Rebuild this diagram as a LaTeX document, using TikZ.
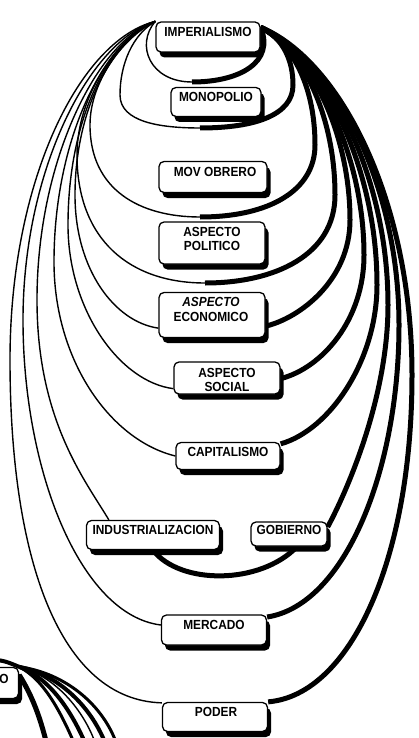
\documentclass[tikz,border=0pt]{standalone}
\usepackage{fontspec}
\setmainfont{Liberation Sans}
\newfontfamily\boxfont[FakeStretch=0.9]{Liberation Sans}
\usetikzlibrary{shadows,calc,backgrounds}
\begin{document}
\begin{tikzpicture}[x=1pt,y=-1pt,
  box/.style={draw=black, line width=1.3pt, rounded corners=5pt, fill=white,
    drop shadow={shadow xshift=3.5pt, shadow yshift=-5.5pt, fill=black, opacity=1},
    inner sep=0pt},
  lbl/.style={font=\boxfont\bfseries\fontsize{13.2}{14.5}\selectfont, align=center, inner sep=0pt},
  lthin/.style={line width=1.4pt},
  lthick/.style={line width=5pt},
  line cap=round, line join=round]
\useasboundingbox (0,0) rectangle (419,738);
\clip (0,0) rectangle (419,738);

% concept boxes
\node[box, minimum width=104pt, minimum height=30pt] (imp)     at (208,37)  {};
\node[box, minimum width=90pt,  minimum height=29pt] (mono)    at (216,102) {};
\node[box, minimum width=108pt, minimum height=31pt] (mov)     at (213,177) {};
\node[box, minimum width=106pt, minimum height=42pt] (pol)     at (212,243) {};
\node[box, minimum width=106pt, minimum height=45pt] (econ)    at (212,315) {};
\node[box, minimum width=106pt, minimum height=32pt] (social)  at (227,378) {};
\node[box, minimum width=104pt, minimum height=27pt] (capital) at (228,456) {};
\node[box, minimum width=133pt, minimum height=29pt] (indust)  at (153,535) {};
\node[box, minimum width=76pt,  minimum height=24pt] (gob)     at (289,534) {};
\node[box, minimum width=105pt, minimum height=30pt] (merc)    at (214,630) {};
\node[box, minimum width=105pt, minimum height=29pt] (poder)   at (215,717) {};
\node[box, minimum width=63pt,  minimum height=31pt] (pn)      at (-13,683) {};

% labels, set near the top of each box
\node[lbl] (imp-t)     at (208,32)  {IMPERIALISMO};
\node[lbl] (mono-t)    at (216,97)  {MONOPOLIO};
\node[lbl] (mov-t)     at (215,172) {MOV OBRERO};
\node[lbl] (pol-t)     at (212,239) {ASPECTO\\POLITICO};
\node[lbl] (econ-t)    at (211,309.5) {\itshape ASPECTO\\ECONOMICO};
\node[lbl] (social-t)  at (227,380) {ASPECTO\\SOCIAL};
\node[lbl] (capital-t) at (228,452) {CAPITALISMO};
\node[lbl] (indust-t)  at (153,530) {INDUSTRIALIZACION};
\node[lbl] (gob-t)     at (289,530) {GOBIERNO};
\node[lbl] (merc-t)    at (214,625) {MERCADO};
\node[lbl] (poder-t)   at (216,712) {PODER};
\node[lbl] (pn-t)      at (4,679)   {O};

% loop anchors
\coordinate (impL) at (imp.north west);
\coordinate (impR) at ([yshift=-6pt]imp.north east);
\coordinate (a0) at (192,82);
\coordinate (b0) at (200,128);
\coordinate (c0) at (200,217);
\coordinate (d0) at (205,283);
\coordinate (econL) at ([yshift=10pt]econ.south west);
\coordinate (econR) at ([yshift=12pt]econ.south east);
\coordinate (socL) at ([yshift=6pt]social.south west);
\coordinate (socR) at ([yshift=16pt]social.south east);
\coordinate (capL) at (capital.west);
\coordinate (capR) at ([yshift=-2pt]capital.north east);
\coordinate (indT) at ([xshift=23pt]indust.north west);
\coordinate (indB) at (indust.south);
\coordinate (gobB) at ([xshift=8pt]gob.south);
\coordinate (gobR) at ([yshift=7pt]gob.east);
\coordinate (mercL) at ([yshift=5pt]merc.west);
\coordinate (mercR) at ([yshift=13pt]merc.east);
\coordinate (podL) at ([yshift=-1pt]poder.north west);
\coordinate (podR) at (poder.north east);

\begin{scope}[on background layer]
% innermost loop under IMPERIALISMO
\draw[lthin]  (impL) .. controls (135,45) and (150,82) .. (a0);
\draw[lthick] (a0) .. controls (240,82) and (275,62) .. (impR);
% MONOPOLIO
\draw[lthin]  (impL) .. controls (132,35) and (120,65) .. (120,95)
              .. controls (120,122) and (160,128) .. (b0);
\draw[lthick] (b0) .. controls (255,128) and (293,115) .. (293,85)
              .. controls (293,60) and (283,38) .. (impR);
% MOV OBRERO
\draw[lthin]  (impL) .. controls (125,36) and (90,80) .. (90,125)
              .. controls (90,190) and (140,217) .. (c0);
\draw[lthick] (c0) .. controls (270,217) and (315,190) .. (315,145)
              .. controls (315,90) and (295,45) .. (impR);
% ASPECTO POLITICO
\draw[lthin]  (impL) .. controls (118,38) and (77,95) .. (77,155)
              .. controls (77,240) and (130,283) .. (d0);
\draw[lthick] (d0) .. controls (275,283) and (335,255) .. (335,195)
              .. controls (335,120) and (305,50) .. (impR);
% ASPECTO ECONOMICO
\draw[lthin]  (impL) .. controls (112,40) and (75,110) .. (75,195)
              .. controls (75,270) and (115,322) .. (econL);
\draw[lthick] (econR) .. controls (300,318) and (350,280) .. (350,220)
              .. controls (350,140) and (315,55) .. (impR);
% ASPECTO SOCIAL
\draw[lthin]  (impL) .. controls (108,40) and (68,120) .. (68,225)
              .. controls (68,310) and (120,382) .. (socL);
\draw[lthick] (socR) .. controls (322,368) and (364,320) .. (364,255)
              .. controls (364,160) and (320,60) .. (impR);
% CAPITALISMO
\draw[lthin]  (impL) .. controls (104,40) and (54,140) .. (54,262)
              .. controls (54,360) and (110,440) .. (capL);
\draw[lthick] (capR) .. controls (330,430) and (377,360) .. (377,285)
              .. controls (377,170) and (325,60) .. (impR);
% INDUSTRIALIZACION - GOBIERNO
\draw[lthin]  (impL) .. controls (98,40) and (37,160) .. (37,300)
              .. controls (37,420) and (85,480) .. (indT);
\draw[lthick] (indB) .. controls (180,585) and (260,585) .. (gobB);
\draw[lthick] (gobR) .. controls (345,495) and (388,400) .. (388,305)
              .. controls (388,178) and (330,60) .. (impR);
% MERCADO
\draw[lthin]  (impL) .. controls (90,40) and (23,170) .. (23,320)
              .. controls (23,470) and (80,615) .. (mercL);
\draw[lthick] (mercR) .. controls (345,605) and (399,470) .. (399,325)
              .. controls (399,185) and (335,60) .. (impR);
% PODER
\draw[lthin]  (impL) .. controls (80,40) and (10,180) .. (10,360)
              .. controls (10,560) and (60,700) .. (podL);
\draw[lthick] (podR) .. controls (350,695) and (412,560) .. (412,375)
              .. controls (412,200) and (340,60) .. (impR);

% links leaving the box at the lower left edge
\coordinate (fs) at (-10,659);
\coordinate (f1) at (47,745);
\coordinate (f2) at (75,745);
\coordinate (f3) at (86,745);
\coordinate (f4) at (96,745);
\coordinate (f5) at (106,745);
\coordinate (f6) at (117,745);
\draw[line width=4pt] (fs) .. controls (5,661) .. (pn.north east);
\draw[lthick] ([yshift=-8pt]pn.north east) .. controls (35,700) and (42,725) .. (f1);
\draw[line width=3pt] (pn.north east) .. controls (45,680) and (62,715) .. (f2);
\draw[line width=4pt] (pn.north east) .. controls (50,678) and (72,712) .. (f3);
\draw[lthin] (pn.north east) .. controls (55,676) and (84,710) .. (f4);
\draw[line width=4pt] (pn.north east) .. controls (60,675) and (92,708) .. (f5);
\draw[line width=3pt] (pn.north east) .. controls (66,673) and (104,706) .. (f6);
\end{scope}
\end{tikzpicture}
\end{document}
